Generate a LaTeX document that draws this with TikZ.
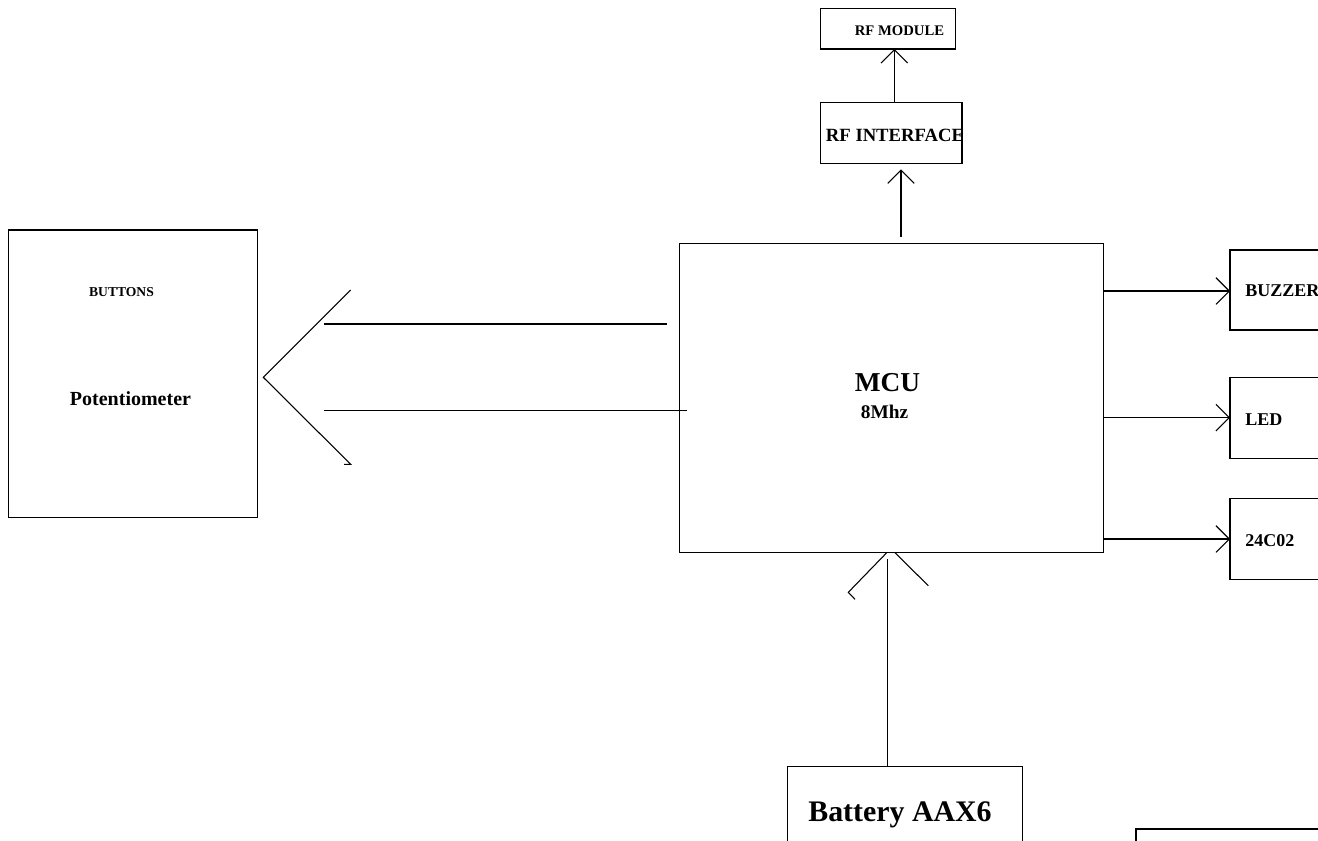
\documentclass[tikz,border=0pt]{standalone}
\usepackage{fontspec}
\setmainfont{Liberation Serif}
\usetikzlibrary{arrows.meta,fit}
\begin{document}
\begin{tikzpicture}[x=0.75pt,y=-0.75pt,
  box/.style={draw, line width=0.9pt, inner sep=0pt, outer sep=0pt, fit={#1}},
  lbl/.style={inner sep=0pt, font=\bfseries\fontsize{#1}{#1}\selectfont},
  wire/.style={line width=0.8pt},
  arr/.style={wire, -{Straight Barb[length=10pt, width=20pt]}}
]
\useasboundingbox (0,0) rectangle (1318,840);
\clip (0,0) rectangle (1318,840);

% boxes
\node[box={(820.7,8.3) (955.3,49)}] (rfmod) {};
\node[box={(820.7,102.7) (962,163.3)}] (rfint) {};
\node[box={(679.3,243.3) (1103.3,552.3)}] (mcu) {};
\node[box={(8.3,230) (257.3,517.3)}] (pot) {};
\node[box={(1230,250) (1360,330)}] (buzz) {};
\node[box={(1230,377.7) (1360,458.3)}] (led) {};
\node[box={(1230,498.3) (1360,579.3)}] (eep) {};
\node[box={(787.3,766.7) (1022.3,880)}] (bat) {};
\node[box={(1136,829) (1400,900)}, line width=1.4pt] (aux) {};

% labels
\node[lbl=11, anchor=base] (trfmod) at (899.5,35) {RF MODULE};
\node[lbl=14, anchor=base] (trfint) at (895,141.7) {RF INTERFACE};
\node[lbl=10.2, anchor=base] (tbut) at (121.5,296.7) {BUTTONS};
\node[lbl=15, anchor=base] (tpot) at (130.5,405) {Potentiometer};
\node[lbl=20.5, anchor=base] (tmcu) at (887.5,391.7) {MCU};
\node[lbl=14.5, anchor=base] (tmhz) at (884.5,418.3) {8Mhz};
\node[lbl=13.5, anchor=base west] (tbuzz) at (1245,296.7) {BUZZER};
\node[lbl=13.5, anchor=base west] (tled) at (1245,425) {LED};
\node[lbl=13.5, anchor=base west] (teep) at (1245,546) {24C02};
\node[lbl=22.4, anchor=base] (tbat) at (900,821.7) {Battery AAX6};

% tick on potentiometer box
\draw[line width=2pt] (22,230) -- (29,230);

% RF connectors
\coordinate (xa) at (894.3,0);
\draw[arr] (xa |- rfint.north) -- (xa |- rfmod.south);
\coordinate (xb) at (901,236.7);
\coordinate (xbt) at (901,169.3);
\draw[arr] (xb) -- (xbt);

% right connectors
\coordinate (yb) at (0,291);
\coordinate (yl) at (0,417.7);
\coordinate (ye) at (0,539);
\draw[arr] (mcu.east |- yb) -- (buzz.west |- yb);
\draw[arr] (mcu.east |- yl) -- (led.west |- yl);
\draw[arr] (mcu.east |- ye) -- (eep.west |- ye);

% left connectors
\coordinate (l1) at (666.7,324);
\coordinate (l2) at (686.7,410.7);
\coordinate (lend) at (324,0);
\draw[wire] (l1) -- (lend |- l1);
\draw[wire] (l2) -- (lend |- l2);
\coordinate (vtop) at (350.7,290);
\coordinate (vapex) at (263.3,377.3);
\coordinate (vbot) at (350.7,464.3);
\coordinate (vtick) at (344,464.3);
\draw[wire] (vtop) -- (vapex) -- (vbot) -- (vtick);

% battery connector
\coordinate (bx) at (887.5,559);
\draw[wire] (bat.north -| bx) -- (bx);
\coordinate (bl0) at (855,599.3);
\coordinate (bl1) at (848.3,592.3);
\coordinate (bl2) at (886.7,552.7);
\coordinate (br1) at (895,552.7);
\coordinate (br2) at (928.3,585.7);
\draw[wire] (bl0) -- (bl1) -- (bl2);
\draw[wire] (br1) -- (br2);
\end{tikzpicture}
\end{document}
